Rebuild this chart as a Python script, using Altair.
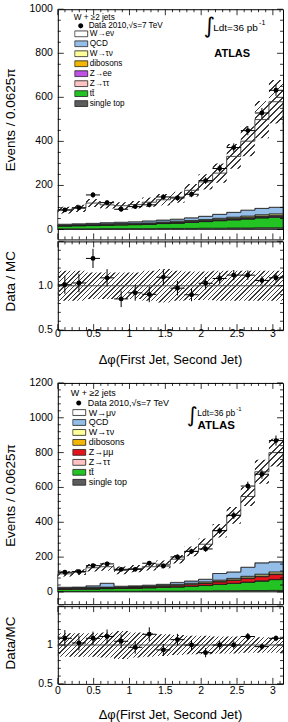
import numpy as np
import pandas as pd
import altair as alt

# ---------------- binning: 16 bins of 0.0625*pi in delta-phi ----------------
N_BINS = 16
BIN_W = np.pi / N_BINS
edges = [k * BIN_W for k in range(N_BINS + 1)]
centers = [(k + 0.5) * BIN_W for k in range(N_BINS)]

DATA_LABEL = "Data 2010,√s=7 TeV"

# ---------------- electron channel ----------------
names_e = ["W→eν", "QCD", "W→τν", "dibosons", "Z→ee", "Z→ττ", "tt̄", "single top"]
colors_e = ["#ffffff", "#94bde8", "#ffff99", "#f2b705", "#c050e6", "#ffc2c2", "#22c322", "#5c5c5c"]
data_e = [89, 99, 157, 122, 92, 104, 112, 148, 143, 160, 222, 277, 372, 449, 529, 632]
stat_e = [9, 10, 13, 11, 10, 10, 11, 12, 12, 13, 15, 17, 19, 21, 23, 25]
mc_e = [88, 96, 120, 112, 108, 113, 124, 135, 147, 178, 216, 256, 332, 401, 499, 580]
syst_e = [0.17, 0.17, 0.15, 0.15, 0.15, 0.15, 0.17, 0.19, 0.17, 0.16, 0.16, 0.17, 0.17, 0.17, 0.17, 0.17]
qcd_e = [3, 4, 5, 5, 6, 7, 9, 9, 9, 12, 15, 18, 22, 27, 29, 30]
wtaunu_e = [2, 2, 2, 3, 3, 3, 3, 3, 4, 4, 4, 5, 5, 6, 6, 7]
diboson_e = [1, 1, 1, 1, 1, 1, 1, 1, 2, 2, 2, 2, 3, 3, 3, 3]
zll_e = [1, 1, 1, 1, 1, 1, 1, 2, 2, 2, 2, 3, 3, 3, 4, 4]
ztautau_e = [1, 1, 1, 1, 1, 1, 1, 1, 1, 1, 1, 1, 1, 1, 1, 1]
ttbar_e = [13, 14, 15, 16, 17, 18, 20, 22, 24, 27, 30, 34, 37, 41, 45, 48]
stop_e = [3, 3, 3, 4, 4, 4, 4, 5, 5, 5, 6, 6, 7, 7, 8, 8]

# ---------------- muon channel ----------------
names_m = ["W→μν", "QCD", "W→τν", "dibosons", "Z→μμ", "Z→ττ", "tt̄", "single top"]
colors_m = ["#ffffff", "#94bde8", "#ffff99", "#f2b705", "#e3141b", "#ffc2c2", "#22c322", "#5c5c5c"]
data_m = [113, 117, 151, 161, 130, 130, 165, 149, 201, 233, 247, 352, 440, 608, 676, 869]
stat_m = [11, 11, 12, 13, 11, 11, 13, 12, 14, 15, 16, 19, 21, 25, 26, 29]
mc_m = [104, 114, 139, 145, 124, 134, 145, 159, 188, 233, 274, 352, 440, 548, 690, 800]
syst_m = [0.15, 0.15, 0.15, 0.16, 0.18, 0.16, 0.15, 0.14, 0.13, 0.12, 0.12, 0.11, 0.11, 0.10, 0.10, 0.10]
qcd_m = [4, 4, 9, 22, 4, 4, 4, 5, 11, 13, 15, 38, 37, 52, 65, 58]
wtaunu_m = [3, 3, 3, 3, 3, 3, 3, 4, 5, 5, 6, 7, 8, 9, 10, 11]
diboson_m = [1, 1, 1, 1, 1, 2, 2, 2, 2, 2, 3, 3, 3, 4, 4, 4]
zll_m = [3, 3, 4, 4, 4, 4, 5, 6, 7, 9, 11, 14, 17, 20, 24, 28]
ztautau_m = [1, 1, 1, 1, 1, 1, 1, 1, 1, 1, 1, 1, 1, 1, 1, 1]
ttbar_m = [12, 13, 14, 15, 16, 17, 19, 21, 24, 27, 31, 36, 42, 48, 55, 62]
stop_m = [3, 3, 3, 4, 4, 4, 5, 5, 5, 6, 6, 7, 7, 8, 8, 9]

# ---------------- tick labels ----------------
x_labels = ["0", "0.5", "1", "1.5", "2", "2.5", "3"]
x_major = [0, 0.5, 1, 1.5, 2, 2.5, 3]
x_minor = [round(0.1 * k, 1) for k in range(32) if k % 5]
y_labels_e = ["0", "200", "400", "600", "800", "1000"]
y_labels_m = ["0", "200", "400", "600", "800", "1000", "1200"]
r_labels_e = ["0.5", "1.0"]
r_labels_m = ["0.5", "1"]
r_major = [0.5, 1.0, 1.5]
r_minor = [round(0.5 + 0.1 * k, 1) for k in range(1, 10) if k != 5]

# ---------------- panel geometry ----------------
W = 226
H_MAIN_E, H_RATIO_E = 231, 89
H_MAIN_M, H_RATIO_M = 222, 78
YDOM_E = [-45, 1000]
YDOM_M = [-70, 1200]
RDOM = [0.5, 1.5]
FONT = "Liberation Sans"
TITLE_SIZE = 13.5
LABEL_SIZE = 10.5
TITLE_X = -47

xs = alt.Scale(domain=[0, np.pi], nice=False, zero=False)


def hatch(lo, hi, dom, h, period, frac=0.3, ink="#3a3a3a"):
    """Diagonal '/' hatching as a linear gradient laid over the band's bounding box."""
    hh = (max(hi) - min(lo)) / (dom[1] - dom[0]) * h
    ww = float(W)
    t = (1 / hh + 1 / ww) / (1 / hh ** 2 + 1 / ww ** 2)
    n = int(round((ww + hh) / period))
    clear = "rgba(255,255,255,0)"
    stops = []
    for k in range(n):
        a, b, c = k / n, (k + frac) / n, (k + 1) / n
        stops += [alt.GradientStop(offset=a, color=ink), alt.GradientStop(offset=b, color=ink),
                  alt.GradientStop(offset=b, color=clear), alt.GradientStop(offset=c, color=clear)]
    return alt.Gradient(gradient="linear", stops=stops, x1=0, y1=0, x2=t / hh, y2=t / ww)


def step_rows(vals):
    return [vals[min(k, N_BINS - 1)] for k in range(N_BINS + 1)]


def tick_layers(ys, ymaj, ymin, h, big=6, small=3):
    """ROOT-style inward ticks on all four sides of a panel."""
    out = []
    for vals, ln in ((x_major, big), (x_minor, small)):
        rule = alt.Chart(pd.DataFrame({"t": vals})).mark_rule(color="black", strokeWidth=0.8)
        xe = alt.X("t:Q", scale=xs, axis=None)
        out.append(rule.encode(x=xe, y=alt.value(h), y2=alt.value(h - ln)))
        out.append(rule.encode(x=xe, y=alt.value(0), y2=alt.value(ln)))
    for vals, ln in ((ymaj, big), (ymin, small)):
        rule = alt.Chart(pd.DataFrame({"t": vals})).mark_rule(color="black", strokeWidth=0.8)
        ye = alt.Y("t:Q", scale=ys, axis=None)
        out.append(rule.encode(y=ye, x=alt.value(0), x2=alt.value(ln)))
        out.append(rule.encode(y=ye, x=alt.value(W), x2=alt.value(W - ln)))
    return out


def y_tick_labels(ys, labels):
    df = pd.DataFrame({"t": [float(s) for s in labels], "lab": labels})
    return alt.Chart(df).mark_text(align="right", baseline="middle", fontSize=LABEL_SIZE,
                                   font=FONT, color="black").encode(
        y=alt.Y("t:Q", scale=ys, axis=None), x=alt.value(-5), text="lab:N")


def x_tick_labels(h, dy):
    df = pd.DataFrame({"t": x_major, "lab": x_labels})
    return alt.Chart(df).mark_text(align="center", baseline="middle", fontSize=LABEL_SIZE,
                                   font=FONT, color="black").encode(
        x=alt.X("t:Q", scale=xs, axis=None), y=alt.value(h + dy), text="lab:N")


def label(text, x, y, size, weight="normal", font=FONT, align="left", angle=0):
    return alt.Chart(alt.Data(values=[{}])).mark_text(
        text=text, align=align, baseline="middle", fontSize=size, fontWeight=weight,
        font=font, color="black", angle=angle
    ).encode(x=alt.value(x), y=alt.value(y))


def main_panel(names, colors, data, stat, mc, syst, bkg, ydom, h, ylabels, ymin, title_y, lg):
    ys = alt.Scale(domain=ydom, nice=False, zero=False)
    # stacked histogram: backgrounds bottom -> top, signal W fills up to the MC total
    order = ["single top", "tt̄", "Z→ττ", names[4], "dibosons", "W→τν", "QCD"]
    signal = [m - sum(b[i] for b in bkg) for i, m in enumerate(mc)]
    parts = list(zip(order, bkg)) + [(names[0], signal)]
    rows = []
    base = [0.0] * N_BINS
    for name, vals in parts:
        top = [b + v for b, v in zip(base, vals)]
        for x, y0, y1 in zip(edges, step_rows(base), step_rows(top)):
            rows.append({"comp": name, "x": x, "y0": y0, "y1": y1})
        base = top
    stack = alt.Chart(pd.DataFrame(rows)).mark_area(
        interpolate="step-after", stroke="#1e1e1e", strokeWidth=0.8
    ).encode(
        x=alt.X("x:Q", scale=xs, axis=None),
        y=alt.Y("y0:Q", scale=ys, stack=None, axis=None),
        y2="y1:Q",
        fill=alt.Fill("comp:N", scale=alt.Scale(domain=names, range=colors), legend=alt.Legend(
            title=None, orient="none", legendX=lg["x"], legendY=lg["fill_y"], padding=0,
            symbolType="M-1,-0.45H1V0.45H-1Z", symbolSize=169, symbolStrokeColor="#1e1e1e",
            symbolStrokeWidth=0.8, labelFont=FONT, labelFontSize=lg["font"], labelColor="black",
            labelOffset=lg["off"], rowPadding=0, clipHeight=lg["row"])),
    )
    lo = [m * (1 - s) for m, s in zip(mc, syst)]
    hi = [m * (1 + s) for m, s in zip(mc, syst)]
    band = alt.Chart(pd.DataFrame({"x": edges, "lo": step_rows(lo), "hi": step_rows(hi)})).mark_area(
        interpolate="step-after", fill=hatch(lo, hi, ydom, h, period=6.5), strokeWidth=0
    ).encode(x=alt.X("x:Q", scale=xs, axis=None), y=alt.Y("lo:Q", scale=ys, axis=None), y2="hi:Q")

    pts = pd.DataFrame({"x": centers, "xl": edges[:-1], "xr": edges[1:], "y": data,
                        "lo": [d - e for d, e in zip(data, stat)], "hi": [d + e for d, e in zip(data, stat)],
                        "lab": DATA_LABEL})
    base_p = alt.Chart(pts)
    vbar = base_p.mark_rule(color="black", strokeWidth=1).encode(
        x=alt.X("x:Q", scale=xs, axis=None), y=alt.Y("lo:Q", scale=ys, axis=None), y2="hi:Q")
    hbar = base_p.mark_rule(color="black", strokeWidth=1).encode(
        x=alt.X("xl:Q", scale=xs, axis=None), x2="xr:Q", y=alt.Y("y:Q", scale=ys, axis=None))
    dots = base_p.mark_circle(size=24, color="black", opacity=1).encode(
        x=alt.X("x:Q", scale=xs, axis=None), y=alt.Y("y:Q", scale=ys, axis=None),
        opacity=alt.Opacity("lab:N", scale=alt.Scale(domain=[DATA_LABEL], range=[1]), legend=alt.Legend(
            title=None, orient="none", legendX=lg["x"], legendY=lg["data_y"], padding=0,
            symbolType="M-1,0H1M0.42,0A0.42,0.42,0,1,1,-0.42,0A0.42,0.42,0,1,1,0.42,0Z",
            symbolSize=144, symbolFillColor="black", symbolStrokeColor="black", symbolStrokeWidth=1,
            labelFont=FONT, labelFontSize=lg["font"], labelColor="black", labelOffset=lg["off"],
            clipHeight=lg["row"])))

    ticks = tick_layers(ys, [float(s) for s in ylabels], ymin, h)
    texts = [y_tick_labels(ys, ylabels),
             label("Events / 0.0625π", TITLE_X, title_y, TITLE_SIZE, align="center", angle=270),
             label("W + ≥2 jets", lg["tx"], lg["ty"], lg["font"]),
             label("∫", lg["ix"], lg["iy"], lg["isize"], font="DejaVu Sans", align="center"),
             label("Ldt=36 pb", lg["lx"], lg["ly"], lg["lsize"]),
             label("-1", lg["sx"], lg["sy"], lg["lsize"] * 0.7),
             label("ATLAS", lg["ax"], lg["ay"], lg["asize"], weight="bold", align="center")]
    return alt.layer(stack, band, vbar, hbar, dots, *ticks, *texts).properties(width=W, height=h)


def ratio_panel(data, stat, mc, syst, h, ytitle, rlabels, title_y, lab_dy, xtitle_dy):
    ys = alt.Scale(domain=RDOM, nice=False, zero=False)
    lo = [1 - s for s in syst]
    hi = [1 + s for s in syst]
    band = alt.Chart(pd.DataFrame({"x": edges, "lo": step_rows(lo), "hi": step_rows(hi)})).mark_area(
        interpolate="step-after", fill=hatch(lo, hi, RDOM, h, period=4.6), strokeWidth=0
    ).encode(x=alt.X("x:Q", scale=xs, axis=None), y=alt.Y("lo:Q", scale=ys, axis=None), y2="hi:Q")
    one = alt.Chart(pd.DataFrame({"v": [1.0]})).mark_rule(color="#444444", strokeWidth=1).encode(
        y=alt.Y("v:Q", scale=ys, axis=None))
    r = [d / m for d, m in zip(data, mc)]
    er = [e / m for e, m in zip(stat, mc)]
    pts = pd.DataFrame({"x": centers, "xl": edges[:-1], "xr": edges[1:], "y": r,
                        "lo": [a - b for a, b in zip(r, er)], "hi": [a + b for a, b in zip(r, er)]})
    base_p = alt.Chart(pts)
    vbar = base_p.mark_rule(color="black", strokeWidth=1).encode(
        x=alt.X("x:Q", scale=xs, axis=None), y=alt.Y("lo:Q", scale=ys, axis=None), y2="hi:Q")
    hbar = base_p.mark_rule(color="black", strokeWidth=1).encode(
        x=alt.X("xl:Q", scale=xs, axis=None), x2="xr:Q", y=alt.Y("y:Q", scale=ys, axis=None))
    dots = base_p.mark_circle(size=24, color="black", opacity=1).encode(
        x=alt.X("x:Q", scale=xs, axis=None), y=alt.Y("y:Q", scale=ys, axis=None))
    ticks = tick_layers(ys, r_major, r_minor, h)
    texts = [y_tick_labels(ys, rlabels), x_tick_labels(h, lab_dy),
             label(ytitle, TITLE_X, title_y, TITLE_SIZE, align="center", angle=270),
             label("Δφ(First Jet, Second Jet)", W / 2, h + xtitle_dy, 13, align="center")]
    return alt.layer(band, one, vbar, hbar, dots, *ticks, *texts).properties(width=W, height=h)


lg_e = dict(x=16.5, data_y=12.9, fill_y=20.9, font=8.2, off=1.5, row=7.6,
            tx=16, ty=8.7, ix=152, iy=17, isize=22, lx=156, ly=18.7, lsize=10,
            sx=202, sy=14, ax=175, ay=45, asize=11)
lg_m = dict(x=14.5, data_y=15.1, fill_y=24.7, font=9, off=2.5, row=10,
            tx=13, ty=10.3, ix=135, iy=33, isize=21, lx=140, ly=29.7, lsize=8.5,
            sx=179, sy=26, ax=159, ay=43.7, asize=11.5)

indep = dict(fill="independent", opacity="independent")

top = alt.vconcat(
    main_panel(names_e, colors_e, data_e, stat_e, mc_e, syst_e,
               [stop_e, ttbar_e, ztautau_e, zll_e, diboson_e, wtaunu_e, qcd_e],
               YDOM_E, H_MAIN_E, y_labels_e,
               [v for v in range(50, 1000, 50) if v % 200], 111, lg_e),
    ratio_panel(data_e, stat_e, mc_e, syst_e, H_RATIO_E, "Data / MC", r_labels_e, 40, 4, 30),
    spacing=0,
).resolve_scale(**indep).resolve_legend(**indep)
bottom = alt.vconcat(
    main_panel(names_m, colors_m, data_m, stat_m, mc_m, syst_m,
               [stop_m, ttbar_m, ztautau_m, zll_m, diboson_m, wtaunu_m, qcd_m],
               YDOM_M, H_MAIN_M, y_labels_m,
               [v for v in range(-40, 1200, 40) if v % 200], 113, lg_m),
    ratio_panel(data_m, stat_m, mc_m, syst_m, H_RATIO_M, "Data/MC", r_labels_m, 37, 7, 31),
    spacing=0,
).resolve_scale(**indep).resolve_legend(**indep)

chart = alt.vconcat(top, bottom, spacing=9).resolve_scale(**indep).resolve_legend(**indep).properties(
    padding={"left": 3, "top": 2, "right": 2, "bottom": 0}, background="white"
).configure(font=FONT).configure_view(stroke="black", strokeWidth=1)

chart.save("out.html", embed_options={"renderer": "svg", "actions": False})
